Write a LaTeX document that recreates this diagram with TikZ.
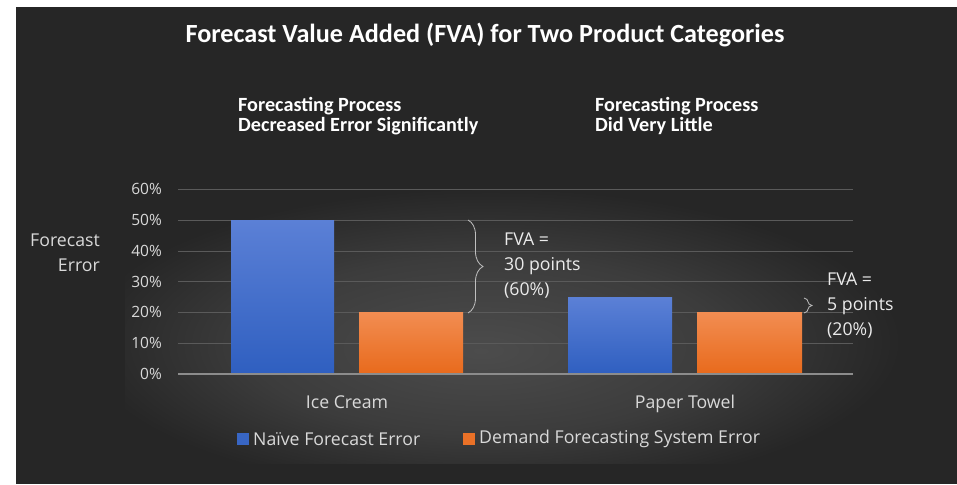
\documentclass[tikz,border=0pt]{standalone}
\usepackage{fontspec}
\setmainfont{Open Sans}
\newfontfamily\titlefont{Carlito}
\usetikzlibrary{decorations.pathreplacing}
\definecolor{bgdark}{HTML}{262626}
\definecolor{glowin}{HTML}{4C4C4C}
\definecolor{glowmid}{HTML}{3C3C3C}
\definecolor{gridc}{HTML}{5A5A5A}
\definecolor{axisc}{HTML}{8C8C8C}
\definecolor{txt}{HTML}{D9D9D9}
\definecolor{bluetop}{HTML}{5B80D6}
\definecolor{bluebot}{HTML}{2F5FC0}
\definecolor{orgtop}{HTML}{F28D52}
\definecolor{orgbot}{HTML}{E86A1C}
\definecolor{bracec}{HTML}{BFBFBF}
\pgfdeclareradialshading{plotglow}{\pgfpoint{-2.5bp}{-6bp}}{color(0bp)=(glowin); color(15bp)=(glowmid); color(26bp)=(bgdark); color(100bp)=(bgdark)}
\tikzset{
  titletxt/.style={font=\titlefont\bfseries\fontsize{26.2}{30}\selectfont, text=white, inner sep=0pt},
  subtxt/.style={font=\titlefont\bfseries\fontsize{20.2}{24}\selectfont, text=white, inner sep=0pt, anchor=base west},
  ticktxt/.style={font=\fontsize{15.5}{18}\selectfont, text=txt, inner sep=0pt, anchor=base east},
  labtxt/.style={font=\fontsize{17.7}{21}\selectfont, text=txt, inner sep=0pt},
  fvatxt/.style={font=\fontsize{17.7}{21}\selectfont, text=white!92!black, inner sep=0pt, anchor=base west},
  gridline/.style={draw=gridc, line width=0.9pt},
  axisline/.style={draw=axisc, line width=1.4pt},
  bluebar/.style={top color=bluetop, bottom color=bluebot, draw=none},
  orangebar/.style={top color=orgtop, bottom color=orgbot, draw=none},
  fvabrace/.style={draw=bracec, line width=0.8pt, decorate, decoration={brace, amplitude=#1}},
  keybox/.style={minimum width=12pt, minimum height=12pt, inner sep=0pt}
}
\begin{document}
\begin{tikzpicture}[x=1pt, y=-1pt]
\useasboundingbox (0,0) rectangle (957,484);
\fill[white] (0,0) rectangle (957,484);
\fill[bgdark] (16,7) rectangle (957,484);
\shade[shading=plotglow] (125,168) rectangle (915,463);
% title
\node[titletxt] (title) at (485,35) {Forecast Value Added (FVA) for Two Product Categories};
\node[subtxt] (s1a) at (238,111) {Forecasting Process};
\node[subtxt] (s1b) at (238,131) {Decreased Error Significantly};
\node[subtxt] (s2a) at (595,111) {Forecasting Process};
\node[subtxt] (s2b) at (595,131) {Did Very Little};
% grid
\foreach \v/\yy in {10/343,20/312,30/281.5,40/251,50/220,60/189}{
  \draw[gridline] (178,\yy) -- (853,\yy);
  \node[ticktxt] (t\v) at (162,\yy+5.5) {\v\%};
}
\node[ticktxt] (t0) at (162,379.5) {0\%};
% bars
\fill[bluebar] (231,220) rectangle (334,374);
\fill[orangebar] (359,312) rectangle (463,374);
\fill[bluebar] (568,297.5) rectangle (672,374);
\fill[orangebar] (697,312) rectangle (802,374);
\draw[axisline] (178,374) -- (853,374);
% axis title
\node[labtxt, anchor=base east] (ya) at (100,246) {Forecast};
\node[labtxt, anchor=base east] (yb) at (100,271) {Error};
% categories
\node[labtxt, anchor=base] (c1) at (347,408) {Ice Cream};
\node[labtxt, anchor=base] (c2) at (685,408) {Paper Towel};
% braces
\coordinate (b1t) at (468,220);
\coordinate (b1b) at (468,313);
\draw[fvabrace=15pt] (b1t) -- (b1b);
\coordinate (b2t) at (804,298);
\coordinate (b2b) at (804,313);
\draw[fvabrace=8pt] (b2t) -- (b2b);
% FVA labels
\node[fvatxt] (f1a) at (504,245) {FVA =};
\node[fvatxt] (f1b) at (504,270) {30 points};
\node[fvatxt] (f1c) at (504,295) {(60\%)};
\node[fvatxt] (f2a) at (827,285) {FVA =};
\node[fvatxt] (f2b) at (827,310) {5 points};
\node[fvatxt] (f2c) at (827,335) {(20\%)};
% legend
\node[keybox, fill=bluebot!80!bluetop] (k1) at (243,439) {};
\node[labtxt, anchor=west] (l1) at (253,439) {Naïve Forecast Error};
\node[keybox, fill=orgbot!80!orgtop] (k2) at (469,439) {};
\node[labtxt, anchor=west] (l2) at (479,439) {Demand Forecasting System Error};
\end{tikzpicture}
\end{document}
